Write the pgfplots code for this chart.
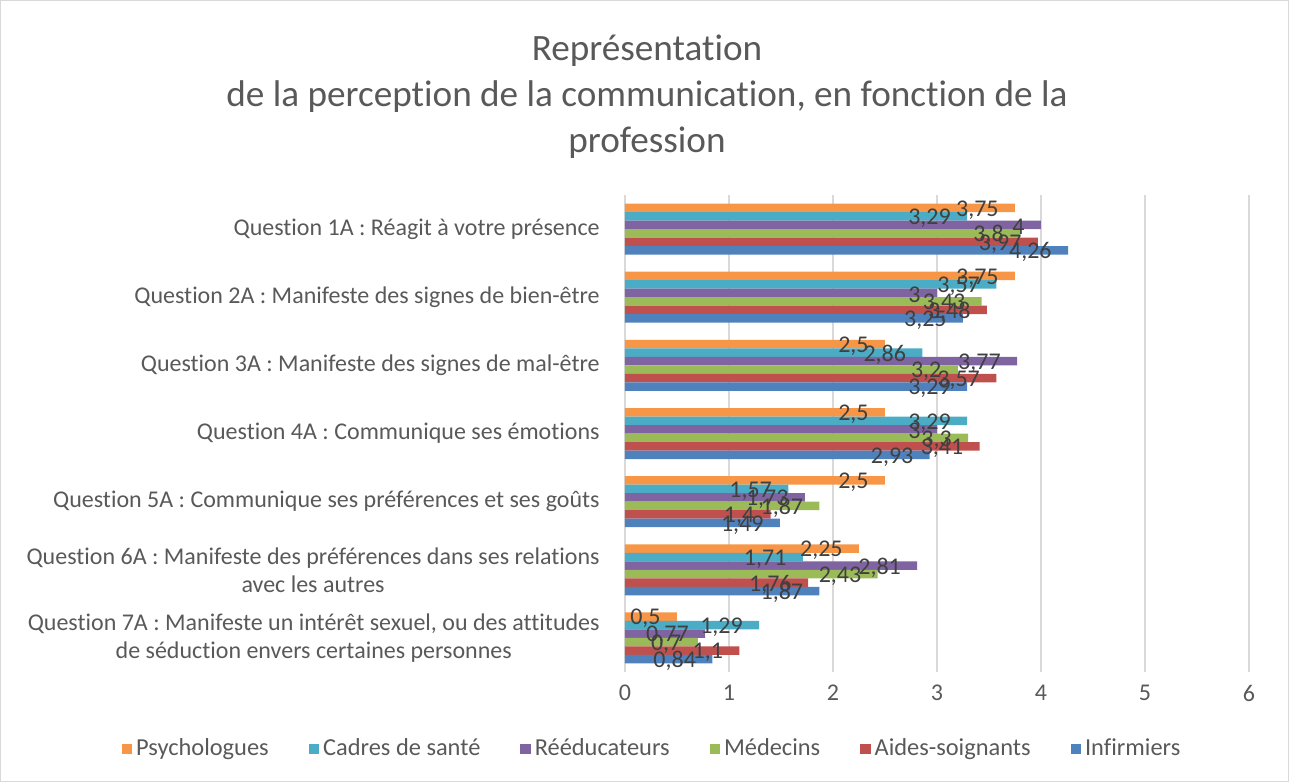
\documentclass[border=0pt]{standalone}
\usepackage{fontspec}
\setmainfont{Carlito}[Ligatures=NoCommon]
\usepackage{pgfplots}
\pgfplotsset{compat=1.18}
\definecolor{cPsy}{HTML}{F79646}
\definecolor{cCad}{HTML}{4BACC6}
\definecolor{cReed}{HTML}{8064A2}
\definecolor{cMed}{HTML}{9BBB59}
\definecolor{cAid}{HTML}{C0504D}
\definecolor{cInf}{HTML}{4F81BD}
\definecolor{txtGray}{HTML}{595959}
\definecolor{lblGray}{HTML}{404040}
\definecolor{gridGray}{HTML}{D9D9D9}

\begin{document}
\begin{tikzpicture}
\useasboundingbox (-312.5pt,-55pt) rectangle (332pt,336pt);
\draw[gridGray, line width=0.6pt] (-312.2pt,-54.7pt) rectangle (331.7pt,335.7pt);
\node[align=center, text=txtGray, font=\fontsize{18.6}{23}\selectfont] at (11pt,287.5pt)
  {Représentation\\de la perception de la communication, en fonction de la\\profession};
\begin{axis}[
  at={(0pt,0pt)}, anchor=south west, scale only axis,
  width=312pt, height=238.5pt,
  xbar=0pt, bar width=4.25pt,
  xmin=0, xmax=6, ymin=0.5, ymax=7.5, y dir=reverse,
  xtick={0,...,6}, ytick={1,...,7},
  yticklabels={
    {Question 1A : Réagit à votre présence},
    {Question 2A : Manifeste des signes de bien-être},
    {Question 3A : Manifeste des signes de mal-être},
    {Question 4A : Communique ses émotions},
    {Question 5A : Communique ses préférences et ses goûts},
    {Question 6A : Manifeste des préférences dans ses relations\\avec les autres},
    {Question 7A : Manifeste un intérêt sexuel, ou des attitudes\\de séduction envers certaines personnes}},
  axis line style={draw=none},
  major tick length=0pt,
  xmajorgrids, grid style={gridGray, line width=0.8pt},
  tick label style={text=txtGray, font=\fontsize{12}{14}\selectfont},
  /pgf/number format/assume math mode=true,
  yticklabel style={align=center, anchor=east, inner sep=0pt, xshift=-12.5pt},
  xticklabel style={anchor=center, inner sep=0pt, yshift=-10.5pt},
  point meta=x,
  nodes near coords,
  nodes near coords style={anchor=east, xshift=-8pt, yshift=-1pt, inner sep=0pt,
    text=lblGray, font=\fontsize{12}{14}\selectfont,
    /pgf/number format/use comma, /pgf/number format/assume math mode=true},
  legend columns=6,
  legend style={at={(0.045,-0.161)}, anchor=center, draw=none, fill=none,
    font=\fontsize{12.2}{14}\selectfont, text=txtGray,
    /tikz/every even column/.append style={column sep=18pt}},
  legend image code/.code={\fill[#1] (0pt,-2.6pt) rectangle (5.2pt,2.6pt);},
  clip=false,
]
\addplot[draw=none, fill=cPsy, bar shift=10.625pt] coordinates {(3.75,1) (3.75,2) (2.5,3) (2.5,4) (2.5,5) (2.25,6) (0.5,7)};
\addplot[draw=none, fill=cCad, bar shift=6.375pt] coordinates {(3.29,1) (3.57,2) (2.86,3) (3.29,4) (1.57,5) (1.71,6) (1.29,7)};
\addplot[draw=none, fill=cReed, bar shift=2.125pt] coordinates {(4,1) (3,2) (3.77,3) (3,4) (1.73,5) (2.81,6) (0.77,7)};
\addplot[draw=none, fill=cMed, bar shift=-2.125pt] coordinates {(3.8,1) (3.43,2) (3.2,3) (3.3,4) (1.87,5) (2.43,6) (0.7,7)};
\addplot[draw=none, fill=cAid, bar shift=-6.375pt] coordinates {(3.97,1) (3.48,2) (3.57,3) (3.41,4) (1.4,5) (1.76,6) (1.1,7)};
\addplot[draw=none, fill=cInf, bar shift=-10.625pt] coordinates {(4.26,1) (3.25,2) (3.29,3) (2.93,4) (1.49,5) (1.87,6) (0.84,7)};
\legend{Psychologues, Cadres de santé, Rééducateurs, Médecins, Aides-soignants, Infirmiers}
\end{axis}
\end{tikzpicture}
\end{document}
